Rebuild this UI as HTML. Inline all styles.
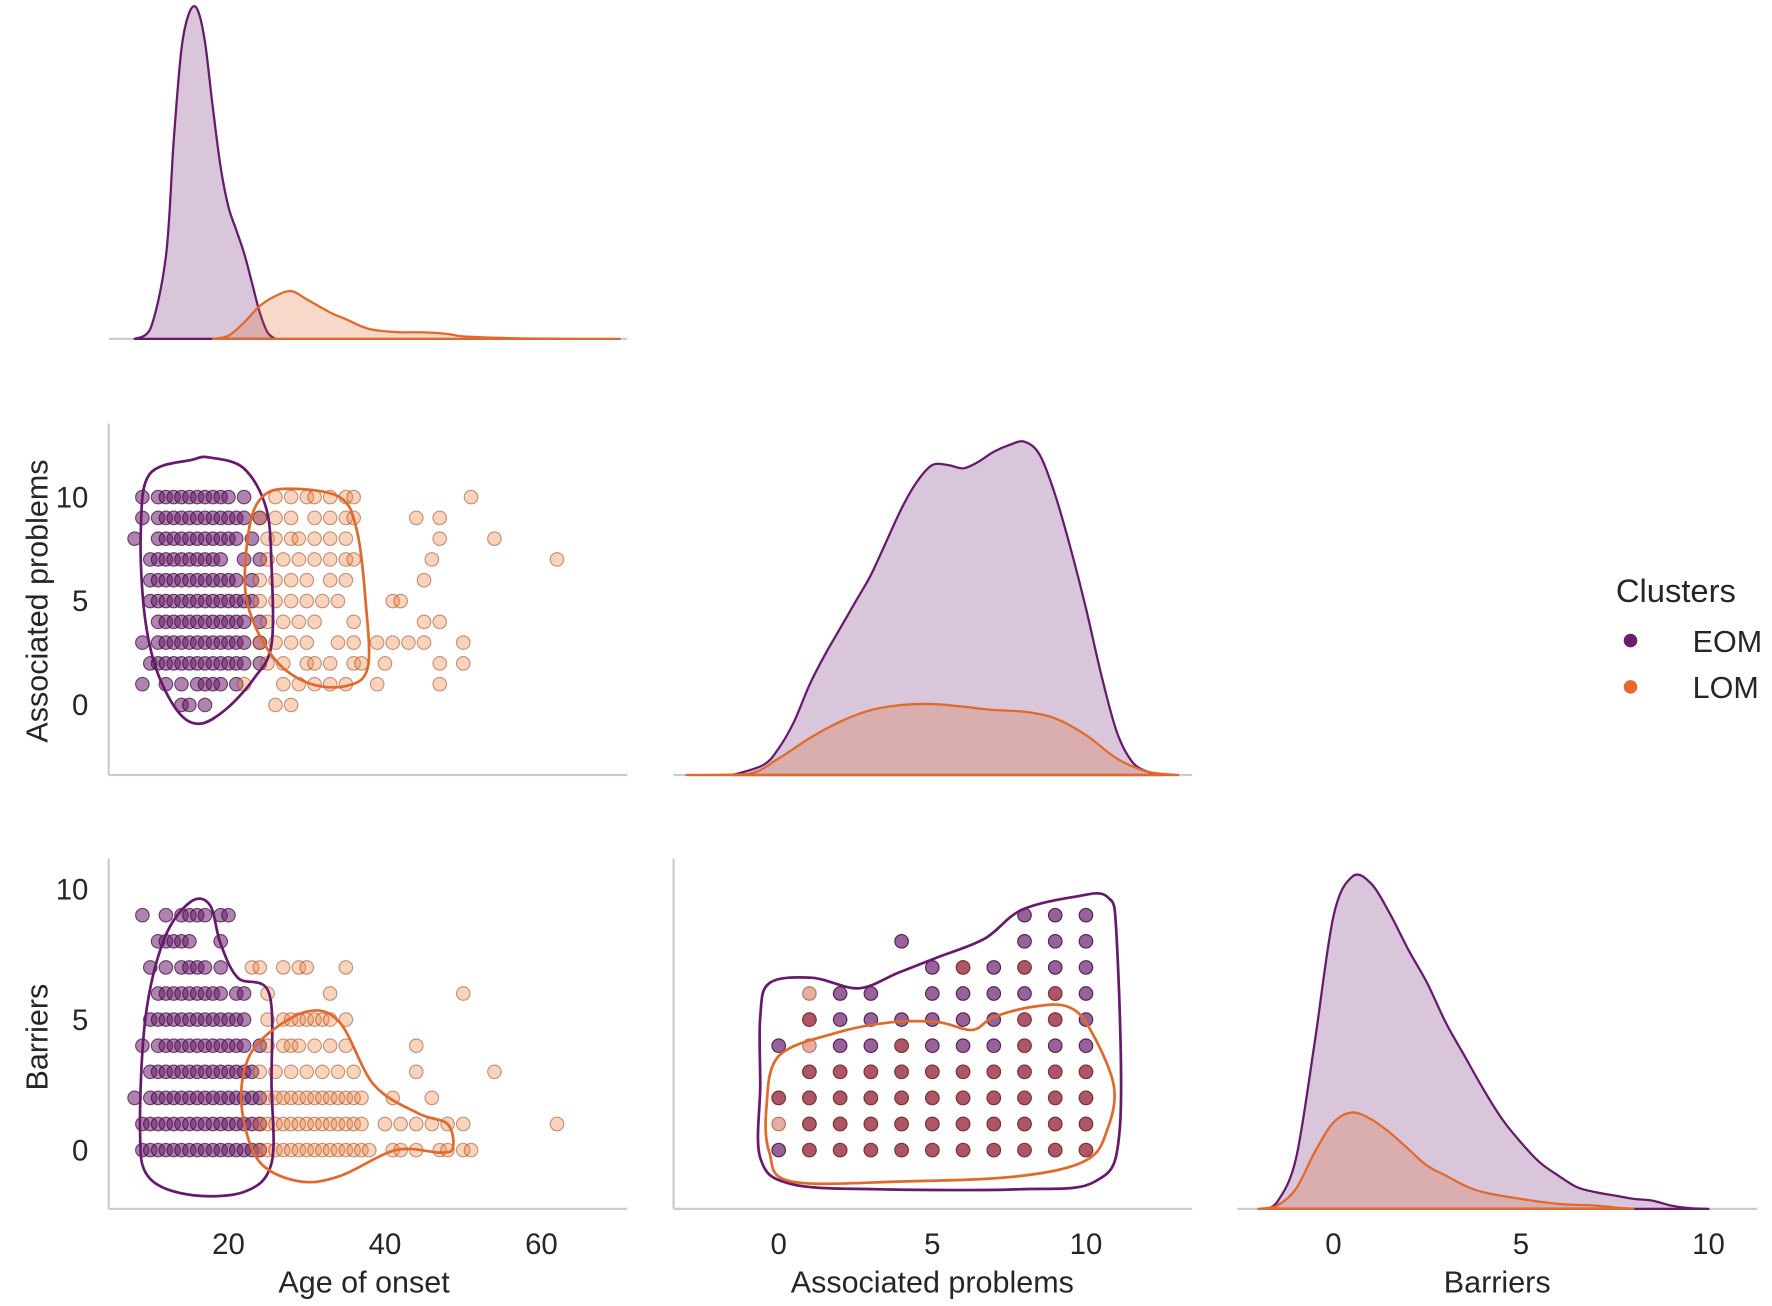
<!DOCTYPE html>
<html><head><meta charset="utf-8"><style>
html,body{margin:0;padding:0;background:#fff}
svg{display:block}
text{font-family:"Liberation Sans",Arial,sans-serif;fill:#262626}
</style></head><body>
<svg id="chart" width="1772" height="1306" viewBox="0 0 1568 1156" xmlns="http://www.w3.org/2000/svg">
<g id="g"></g>
<g>
<text x="1430" y="533" font-size="29">Clusters</text>
<circle cx="1443" cy="567" r="6" fill="#6b1e6e"/>
<text x="1498" y="577" font-size="27">EOM</text>
<circle cx="1443" cy="608" r="6" fill="#e8682a"/>
<text x="1498" y="618" font-size="27">LOM</text>
</g>
</svg>
<script>
// ---------- data ----------
const ageTicks=[20,40,60];
const assocTicks=[0,5,10];
const barrTicks=[0,5,10];
// KDE (relative density, 1 = tallest curve in each diagonal panel)
const ageKdeX=[8,10,12,13,14,15,16,17,18,19,20,21,22,23,24,25,26];
const ageKdeEOM=[0,0.03,0.25,0.6,0.88,0.99,1.0,0.9,0.7,0.52,0.4,0.33,0.26,0.17,0.08,0.02,0];
const ageKdeLomX=[18,20,22,24,26,28,30,33,35,38,42,45,48,50,55,60,70];
const ageKdeLOM=[0,0.01,0.05,0.1,0.13,0.145,0.12,0.08,0.06,0.03,0.02,0.02,0.015,0.008,0.003,0.001,0];
const assocKdeX=[-1.5,-0.5,0,0.5,1,1.5,2,2.5,3,3.5,4,4.5,5,5.5,6,6.5,7,7.5,8,8.5,9,9.5,10,10.5,11,11.5,12,12.5];
const assocKdeEOM=[0,0.03,0.08,0.16,0.27,0.36,0.44,0.52,0.6,0.7,0.8,0.88,0.93,0.93,0.92,0.94,0.97,0.99,1.0,0.96,0.84,0.68,0.5,0.3,0.13,0.04,0.01,0];
const assocKdeLomX=[-3,-1,0,1,2,3,4,5,6,7,8,9,10,11,12,13];
const assocKdeLOM=[0,0.003,0.05,0.11,0.16,0.195,0.21,0.213,0.205,0.195,0.19,0.17,0.12,0.05,0.01,0];
const barrKdeX=[-1.8,-1.5,-1,-0.5,0,0.5,1,1.5,2,2.5,3,3.5,4,4.5,5,5.5,6,6.5,7,7.5,8,8.5,9,9.5,10];
const barrKdeEOM=[0,0.02,0.15,0.5,0.88,1.0,0.98,0.89,0.78,0.68,0.56,0.46,0.36,0.27,0.2,0.14,0.1,0.065,0.05,0.04,0.03,0.025,0.01,0.002,0];
const barrKdeLomX=[-2,-1.5,-1,-0.5,0,0.5,1,1.5,2,2.5,3,3.5,4,5,6,7,7.5,8];
const barrKdeLOM=[0,0.01,0.06,0.17,0.26,0.29,0.27,0.23,0.18,0.13,0.1,0.07,0.05,0.03,0.015,0.01,0.004,0];
// scatter rows: [y value, [x values]]
const eomAgeAssoc=[[10,[9,11,12,13,14,15,16,17,18,19,20,22]],[9,[9,11,12,13,14,15,16,17,18,19,20,21,22,24]],[8,[8,11,12,13,14,15,16,17,18,19,20,21,23]],[7,[10,11,12,13,14,15,16,17,18,19,22,24]],[6,[10,11,12,13,14,15,16,17,18,19,20,21,23]],[5,[10,11,12,13,14,15,16,17,18,19,20,21,22,23]],[4,[11,12,13,14,15,16,17,18,19,20,21,22,24]],[3,[9,11,12,13,14,15,16,17,18,19,20,21,22,24]],[2,[10,11,12,13,14,15,16,17,18,19,20,21,22,24]],[1,[9,12,14,16,17,18,19,21]],[0,[14,15,17]]];
const lomAgeAssoc=[[10,[26,28,30,31,33,35,36,51]],[9,[24,26,28,31,33,35,36,44,47]],[8,[25,26,28,29,31,33,35,47,54]],[7,[25,27,29,31,33,35,36,46,62]],[6,[24,26,28,30,33,35,45]],[5,[24,26,28,30,32,34,41,42]],[4,[25,27,29,31,36,45,47]],[3,[24,26,28,30,34,36,39,41,43,45,50]],[2,[25,27,30,31,33,36,37,40,47,50]],[1,[22,27,29,31,33,35,39,47]],[0,[26,28]]];
const eomAgeBarr=[[9,[9,12,14,15,16,17,19,20]],[8,[11,12,13,14,15,19]],[7,[10,12,14,15,16,17,19]],[6,[11,12,13,14,15,16,17,18,19,21,22]],[5,[10,11,12,13,14,15,16,17,18,19,20,21,22]],[4,[9,11,12,13,14,15,16,17,18,19,20,21,22,24]],[3,[10,11,12,13,14,15,16,17,18,19,20,21,22,23]],[2,[8,10,11,12,13,14,15,16,17,18,19,20,21,22,23,24]],[1,[9,10,11,12,13,14,15,16,17,18,19,20,21,22,23,24]],[0,[9,10,11,12,13,14,15,16,17,18,19,20,21,22,23,24]]];
const lomAgeBarr=[[7,[23,24,27,29,30,35]],[6,[25,33,50]],[5,[25,27,28,29,30,31,32,33,35]],[4,[25,27,28,29,31,33,35,44]],[3,[24,26,28,30,32,34,36,44,54]],[2,[25,26,27,28,29,30,31,32,33,34,35,36,37,41,46]],[1,[24,25,26,27,28,29,30,31,32,33,34,35,36,37,40,42,44,46,48,50,62]],[0,[24,25,26,27,28,29,30,31,32,33,34,35,36,37,38,41,42,44,47,48,50,51]]];
const eomAssocBarr=[[9,[8,9,10]],[8,[4,8,9,10]],[7,[5,6,7,8,9,10]],[6,[2,3,5,6,7,8,9,10]],[5,[1,2,3,4,5,6,7,8,9,10]],[4,[0,2,3,4,5,6,7,8,9,10]],[3,[1,2,3,4,5,6,7,8,9,10]],[2,[0,1,2,3,4,5,6,7,8,9,10]],[1,[1,2,3,4,5,6,7,8,9,10]],[0,[0,1,2,3,4,5,6,7,8,9,10]]];
const lomAssocBarr=[[7,[6,8]],[6,[1,9]],[5,[1,8,9]],[4,[1,4,8]],[3,[1,2,3,4,5,6,7,8,9,10]],[2,[0,1,2,3,4,5,6,7,8,9,10]],[1,[0,1,2,3,4,5,6,7,8,9,10]],[0,[1,2,3,4,5,6,7,8,9,10]]];
// contour polygons [x,y] in data units
const eomAgeAssocC=[[15.4,11.8],[17.6,11.9],[21.9,11.4],[24.8,9.5],[25.5,6.7],[25.5,2.9],[23.3,1.3],[19.7,-0.2],[16.3,-0.9],[13.5,-0.3],[10.7,1.8],[9.2,4.6],[8.8,8.4],[9.9,11.1]];
const lomAgeAssocC=[[27.7,10.4],[34.2,10],[36.4,8.4],[37.5,5.1],[37.8,1.8],[34.9,0.9],[29.9,1.1],[25.5,2.4],[22.3,5.1],[22.6,8.4],[24.3,10]];
const eomAgeBarrC=[[15.1,9.5],[17.6,9.4],[19,7.9],[21.2,6.6],[25.2,6],[25.5,2.5],[25.5,-0.5],[22,-1.6],[14.8,-1.7],[9.7,-1],[8.7,0.8],[9.4,5.1],[11.8,8.1]];
const lomAgeBarrC=[[24.1,4.2],[29.9,5.3],[34.2,4.9],[38.6,2.5],[44.3,1.4],[48,1],[48.7,0.1],[47.2,-0.1],[41.4,0],[34.2,-1],[29.1,-1.2],[24.1,-0.5],[21.9,1.2],[21.9,2.9]];
const eomAssocBarrC=[[-0.3,6.4],[1.1,6.6],[2.6,6.2],[3.9,6.8],[5.2,7.4],[6.7,8.1],[7.9,9.2],[9.6,9.7],[10.7,9.7],[11,8.1],[11.1,0.8],[10.3,-1.2],[7.8,-1.5],[3.3,-1.5],[0.4,-1.3],[-0.6,-0.3],[-0.6,2.5],[-0.6,5.1]];
const lomAssocBarrC=[[0,3.6],[1.9,4.5],[3.7,4.9],[5.2,4.9],[6.3,4.6],[7,5.1],[8.3,5.5],[9.4,5.5],[10.1,4.7],[10.9,2.5],[10.7,0.8],[10,-0.4],[7.8,-1],[4.1,-1.2],[0.4,-1.2],[-0.3,-0.1],[-0.4,1.6]];

// ---------- layout ----------
const NS='http://www.w3.org/2000/svg';
const G=document.getElementById('g');
function el(tag,attrs,parent){const e=document.createElementNS(NS,tag);for(const k in attrs)e.setAttribute(k,attrs[k]);(parent||G).appendChild(e);return e;}
const sAge=v=>202+(v-20)*6.925;
const sAssocX=v=>689+v*27.2;
const sBarrX=v=>1180+v*33.2;
const sAssocY=v=>624-v*18.4;
const sBarrY=v=>1018-v*23.1;
const EOM='#661a6c',LOM='#e0692c';

function axisLine(x1,y1,x2,y2,name){const l=el('line',{x1,y1,x2,y2,stroke:'#cccccc','stroke-width':2});

}
function txt(s,x,y,size,anchor,name,rot){const t=el('text',{x,y,'font-size':size,'text-anchor':anchor||'middle'});t.textContent=s;
if(rot)t.setAttribute('transform','rotate(-90 '+x+' '+y+')');

return t;}

axisLine(96,300,555,300,'age-kde-baseline');
axisLine(96,375,96,686,'assoc-y-axis');axisLine(96,686,555,686,'row2-x-axis');
axisLine(596,686,1055,686,'assoc-kde-baseline');
axisLine(96,760,96,1070,'barriers-y-axis');axisLine(96,1070,555,1070,'age-x-axis');
axisLine(596,760,596,1070,'barriers-y-axis-col2');axisLine(596,1070,1055,1070,'assoc-x-axis');
axisLine(1095,1070,1555,1070,'barriers-x-axis');
ageTicks.forEach(v=>txt(String(v),sAge(v),1110,26,'middle','age-tick-label'));
assocTicks.forEach(v=>txt(String(v),sAssocX(v),1110,26,'middle','assoc-tick-label'));
barrTicks.forEach(v=>txt(String(v),sBarrX(v),1110,26,'middle','barriers-tick-label'));
assocTicks.forEach(v=>txt(String(v),78,sAssocY(v)+9,26,'end','assoc-y-tick-label'));
barrTicks.forEach(v=>txt(String(v),78,sBarrY(v)+9,26,'end','barriers-y-tick-label'));
txt('Age of onset',322,1144,27,'middle','x-axis-title-age');
txt('Associated problems',825,1144,27,'middle','x-axis-title-assoc');
txt('Barriers',1325,1144,27,'middle','x-axis-title-barriers');
txt('Associated problems',42,532,27,'middle','y-axis-title-assoc',true);
txt('Barriers',42,918,27,'middle','y-axis-title-barriers',true);

function smoothOpen(P){
 let d='';const n=P.length;
 for(let i=0;i<n-1;i++){const p0=P[Math.max(i-1,0)],p1=P[i],p2=P[i+1],p3=P[Math.min(i+2,n-1)];
  const c1=[p1[0]+(p2[0]-p0[0])/6,p1[1]+(p2[1]-p0[1])/6],c2=[p2[0]-(p3[0]-p1[0])/6,p2[1]-(p3[1]-p1[1])/6];
  d+=' C'+c1[0].toFixed(1)+','+Math.min(c1[1],Math.max(p1[1],p2[1])).toFixed(1)+' '+c2[0].toFixed(1)+','+Math.min(c2[1],Math.max(p1[1],p2[1])).toFixed(1)+' '+p2[0].toFixed(1)+','+p2[1].toFixed(1);}
 return d;}
function kde(xs,ys,sx,base,h,color,name){
 const P=xs.map((x,i)=>[sx(x),base-ys[i]*h]);
 let d='M'+P[0][0].toFixed(1)+','+base+smoothOpen(P)+' L'+P[P.length-1][0].toFixed(1)+','+base+' Z';
 const p=el('path',{d,fill:color,'fill-opacity':0.25,stroke:color,'stroke-width':2,'stroke-linejoin':'round'});
 
 }
kde(ageKdeX,ageKdeEOM,sAge,300,292,EOM,'kde-age-eom');
kde(ageKdeLomX,ageKdeLOM,sAge,300,292,LOM,'kde-age-lom');
kde(assocKdeX,assocKdeEOM,sAssocX,686,295,EOM,'kde-assoc-eom');
kde(assocKdeLomX,assocKdeLOM,sAssocX,686,295,LOM,'kde-assoc-lom');
kde(barrKdeX,barrKdeEOM,sBarrX,1070,294,EOM,'kde-barriers-eom');
kde(barrKdeLomX,barrKdeLOM,sBarrX,1070,294,LOM,'kde-barriers-lom');

function scatter(rowsData,sx,sy,fill,op,name){
 rowsData.forEach(r=>r[1].forEach(x=>{
  const c=el('circle',{cx:sx(x).toFixed(1),cy:sy(r[0]).toFixed(1),r:6,fill:fill,'fill-opacity':op,stroke:fill==='#6b1e6e'?'#3a0a3c':'#8a3a10','stroke-opacity':Math.min(1,op+0.15),'stroke-width':1});
  
  
 }));}
scatter(eomAgeAssoc,sAge,sAssocY,'#6b1e6e',0.55,'point-eom-age-assoc');
scatter(lomAgeAssoc,sAge,sAssocY,'#f08040',0.35,'point-lom-age-assoc');
scatter(eomAgeBarr,sAge,sBarrY,'#6b1e6e',0.55,'point-eom-age-barriers');
scatter(lomAgeBarr,sAge,sBarrY,'#f08040',0.35,'point-lom-age-barriers');
scatter(eomAssocBarr,sAssocX,sBarrY,'#6b1e6e',0.7,'point-eom-assoc-barriers');
scatter(lomAssocBarr,sAssocX,sBarrY,'#c84a30',0.45,'point-lom-assoc-barriers');

function contour(pts,sx,sy,color,name){
 const P=pts.map(p=>[sx(p[0]),sy(p[1])]);const n=P.length;
 let d='M'+P[0][0].toFixed(1)+','+P[0][1].toFixed(1);
 for(let i=0;i<n;i++){const p0=P[(i-1+n)%n],p1=P[i],p2=P[(i+1)%n],p3=P[(i+2)%n];
  const c1=[p1[0]+(p2[0]-p0[0])/6,p1[1]+(p2[1]-p0[1])/6],c2=[p2[0]-(p3[0]-p1[0])/6,p2[1]-(p3[1]-p1[1])/6];
  d+=' C'+c1[0].toFixed(1)+','+c1[1].toFixed(1)+' '+c2[0].toFixed(1)+','+c2[1].toFixed(1)+' '+p2[0].toFixed(1)+','+p2[1].toFixed(1);}
 const p=el('path',{d:d+'Z',fill:'none',stroke:color,'stroke-width':2.4});
 
 }
contour(eomAgeAssocC,sAge,sAssocY,EOM,'contour-eom-age-assoc');
contour(lomAgeAssocC,sAge,sAssocY,LOM,'contour-lom-age-assoc');
contour(eomAgeBarrC,sAge,sBarrY,EOM,'contour-eom-age-barriers');
contour(lomAgeBarrC,sAge,sBarrY,LOM,'contour-lom-age-barriers');
contour(eomAssocBarrC,sAssocX,sBarrY,EOM,'contour-eom-assoc-barriers');
contour(lomAssocBarrC,sAssocX,sBarrY,LOM,'contour-lom-assoc-barriers');
</script>
</body></html>
